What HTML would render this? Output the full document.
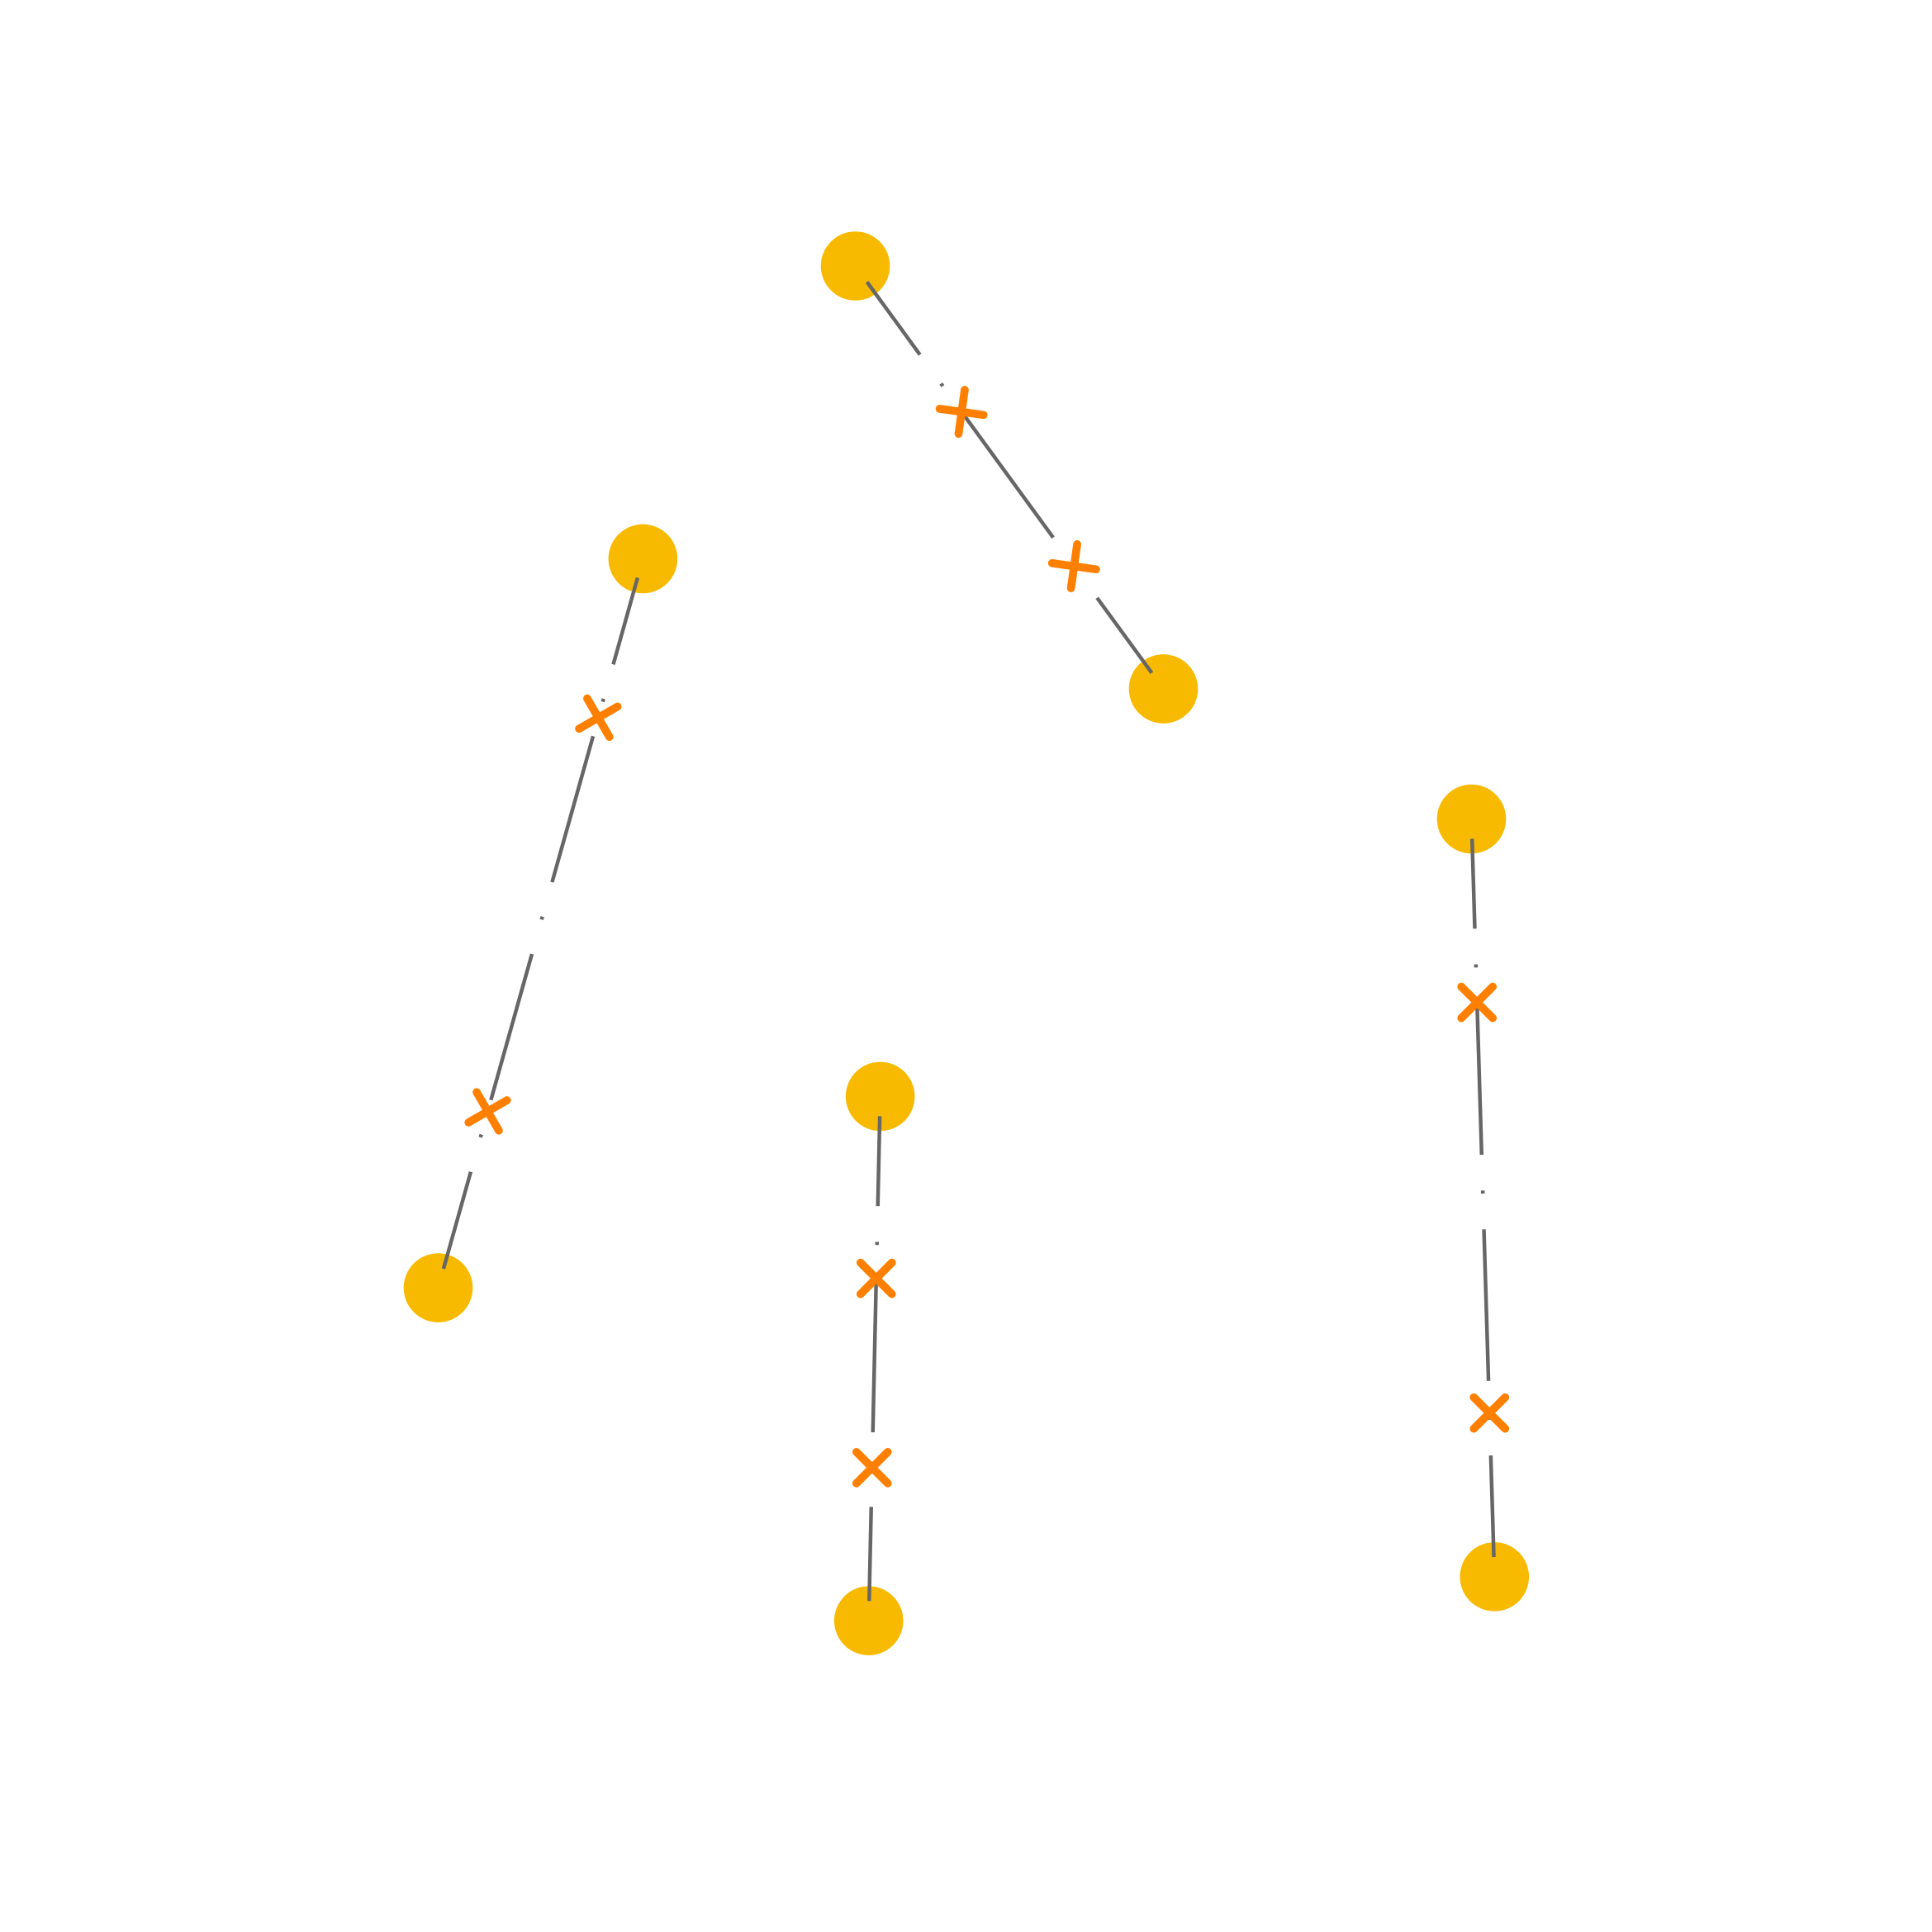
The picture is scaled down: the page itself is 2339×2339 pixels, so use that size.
<!DOCTYPE html>
<html><head><meta charset="utf-8"><style>html,body{margin:0;padding:0;background:#fff}svg{display:block}</style></head>
<body>
<svg id="chart" width="2339" height="2339" viewBox="0 0 1567 1567" xmlns="http://www.w3.org/2000/svg"></svg>
<script>
const startX = [44.7, 33.6, 46.0, 76.9];
const startY = [13.9, 29.2, 57.3, 42.8];
const endX = [60.8, 22.9, 45.4, 78.1];
const endY = [36.0, 67.3, 84.7, 82.4];
const crossT1 = [0.345, 0.218, 0.347, 0.242];
const crossT2 = [0.71, 0.758, 0.708, 0.784];
const crossRot = [8, -30, 45, 45];

const NS = 'http://www.w3.org/2000/svg';
const svg = document.getElementById('chart');
function sx(v){ return v * 15.52; }
function sy(v){ return v * 15.52; }
function mk(tag, attrs){ const e = document.createElementNS(NS, tag); for (const k in attrs) e.setAttribute(k, attrs[k]); svg.appendChild(e); return e; }

for (let i = 0; i < startX.length; i++) {
  const c1 = mk('circle', {cx: sx(startX[i]), cy: sy(startY[i]), r: 28, fill: '#F8BA00'});
  
  
  const c2 = mk('circle', {cx: sx(endX[i]), cy: sy(endY[i]), r: 28, fill: '#F8BA00'});
  
  
}
for (let i = 0; i < startX.length; i++) {
  const x1 = sx(startX[i]), y1 = sy(startY[i]), x2 = sx(endX[i]), y2 = sy(endY[i]);
  const L = Math.hypot(x2-x1, y2-y1), ux = (x2-x1)/L, uy = (y2-y1)/L;
  const s = 16;
  const ln = mk('line', {x1: x1+ux*s, y1: y1+uy*s, x2: x2-ux*s, y2: y2-uy*s, stroke: '#666', 'stroke-width': 3,
    'stroke-dasharray': '73 29 2.5 29 123 29 2.5 29 123 29 2.5 29 123 29 2.5 29 123 29 2.5 29'});
  
  
  [crossT1[i], crossT2[i]].forEach((t, j) => {
    const cx = x1 + (x2-x1)*t, cy = y1 + (y2-y1)*t;
    const g = mk('g', {transform: `translate(${cx},${cy}) rotate(${crossRot[i]})`});
    
    
    const a = document.createElementNS(NS, 'path');
    a.setAttribute('d', 'M-18 0 L18 0 M0 -18 L0 18');
    a.setAttribute('stroke', '#FF7F00');
    a.setAttribute('stroke-width', 6.5);
    a.setAttribute('stroke-linecap', 'round');
    a.setAttribute('fill', 'none');
    g.appendChild(a);
  });
}
</script>
</body></html>
